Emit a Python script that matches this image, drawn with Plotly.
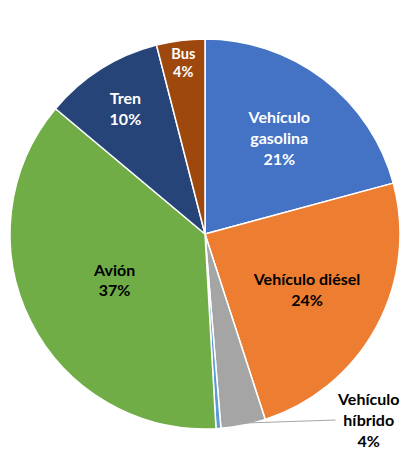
import plotly.graph_objects as go

labels = ["Vehículo gasolina", "Vehículo diésel", "Vehículo híbrido", "Vehículo eléctrico", "Avión", "Tren", "Bus"]
values = [20.8, 24.2, 3.7, 0.4, 37.0, 9.9, 4.0]
display = ["<b>Vehículo<br>gasolina<br>21%</b>", "<b>Vehículo diésel<br>24%</b>", "", "", "<b>Avión<br>37%</b>", "<b>Tren<br>10%</b>", "<b>Bus<br>4%</b>"]
hybrid_label = "<b>Vehículo<br>híbrido<br>4%</b>"
colors = ["#4472C4", "#ED7D31", "#A5A5A5", "#5B9BD5", "#70AD47", "#264478", "#9E480E"]
text_colors = ["white", "black", "black", "black", "black", "white", "white"]

fig = go.Figure(go.Pie(
    labels=labels, values=values, text=display,
    texttemplate="%{text}", textinfo="text",
    sort=False, direction="clockwise", rotation=0,
    marker=dict(colors=colors, line=dict(color="white", width=1.5)),
    textposition="inside",
    insidetextorientation="horizontal",
    textfont=dict(family="Lato", size=16, color=text_colors),
    domain=dict(x=[0.025, 1.0], y=[0.0529, 0.9163]),
    showlegend=False,
))
fig.add_annotation(
    text=hybrid_label, xref="paper", yref="paper",
    x=245 / 400, y=1 - 423 / 454, ax=123, ay=-4,
    showarrow=True, arrowhead=0, arrowwidth=1, arrowcolor="#A5A5A5",
    font=dict(family="Lato", size=16, color="black"), align="center",
)
fig.update_layout(width=400, height=454, margin=dict(l=0, r=0, t=0, b=0),
                  paper_bgcolor="white", font=dict(family="Lato", size=16))
fig.write_html("out.html", config={"displayModeBar": False},
               post_script="document.body.style.margin='0';document.body.style.overflow='hidden';")
